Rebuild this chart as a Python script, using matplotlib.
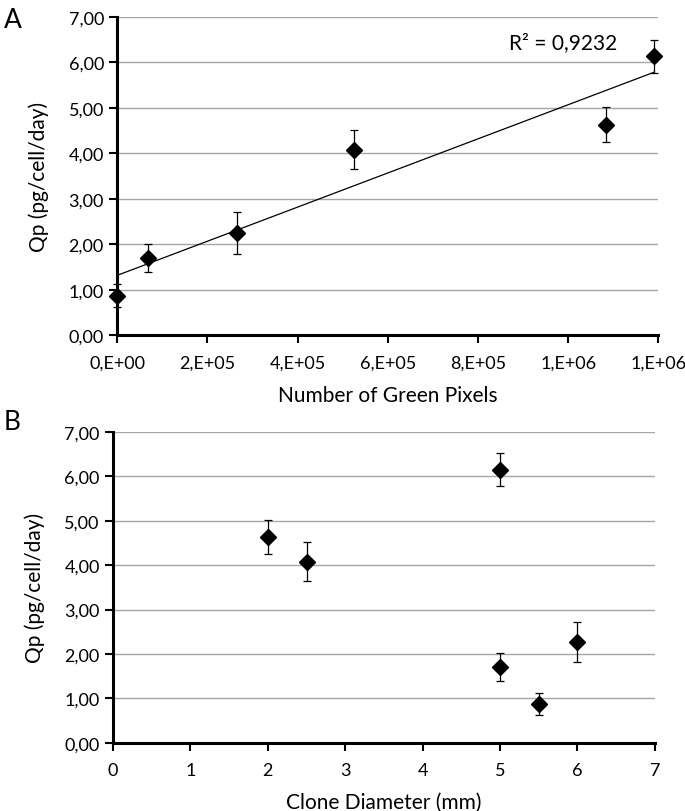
import numpy as np
import matplotlib
matplotlib.use('Agg')
import matplotlib.pyplot as plt

plt.rcParams['font.family'] = ['Lato', 'DejaVu Sans']

# Panel A data
green_pixels = [0, 69000, 266000, 526000, 1085000, 1191000]
qp_a = [0.87, 1.70, 2.25, 4.08, 4.63, 6.13]
err_a = [0.25, 0.30, 0.46, 0.43, 0.38, 0.37]
x_ticks_a = [0, 200000, 400000, 600000, 800000, 1000000, 1200000]
x_labels_a = ['0,E+00', '2,E+05', '4,E+05', '6,E+05', '8,E+05', '1,E+06', '1,E+06']
r2_text = 'R² = 0,9232'

# Panel B data
clone_diam = [2, 2.5, 5, 5, 5.5, 6]
qp_b = [4.63, 4.08, 6.15, 1.70, 0.88, 2.27]
err_b = [0.38, 0.43, 0.37, 0.31, 0.25, 0.46]

y_ticks = [0, 1, 2, 3, 4, 5, 6, 7]
y_labels = ['0,00', '1,00', '2,00', '3,00', '4,00', '5,00', '6,00', '7,00']


def style_axes(ax):
    for s in ['top', 'right']:
        ax.spines[s].set_visible(False)
    for s in ['left', 'bottom']:
        ax.spines[s].set_linewidth(2.2)
    ax.yaxis.grid(True, color='#a6a6a6', linewidth=1)
    ax.set_axisbelow(True)
    ax.set_ylim(0, 7)
    ax.set_yticks(y_ticks)
    ax.set_yticklabels(y_labels)
    ax.tick_params(axis='both', direction='out', length=6, width=1.5, labelsize=13)
    ax.tick_params(axis='x', pad=8)
    ax.set_ylabel('Qp (pg/cell/day)', fontsize=15, labelpad=14)


def draw_points(ax, x, y, err):
    eb = ax.errorbar(x, y, yerr=err, fmt='D', color='black', markersize=8.5,
                     ecolor='black', elinewidth=0.9, capsize=3, capthick=0.9, zorder=3)
    for artist in eb.lines[0:1] + tuple(eb.lines[1]) + tuple(eb.lines[2]):
        artist.set_clip_on(False)


fig = plt.figure(figsize=(6.85, 8.12), dpi=100)

# ===== A =====
ax1 = fig.add_axes([0.171, 0.586, 0.79, 0.392])
draw_points(ax1, green_pixels, qp_a, err_a)
slope, intercept = np.polyfit(green_pixels, qp_a, 1)
xs = np.array([min(green_pixels), max(green_pixels)])
ax1.plot(xs, slope * xs + intercept, color='black', linewidth=0.9, zorder=2)
ax1.set_xlim(0, 1200000)
ax1.set_xticks(x_ticks_a)
ax1.set_xticklabels(x_labels_a)
style_axes(ax1)
ax1.set_xlabel('Number of Green Pixels', fontsize=15, labelpad=10)
ax1.text(990000, 6.45, r2_text, fontsize=15, ha='center', va='center')
fig.text(0.005, 0.975, 'A', fontsize=19, va='center')

# ===== B =====
ax2 = fig.add_axes([0.165, 0.084, 0.791, 0.383])
draw_points(ax2, clone_diam, qp_b, err_b)
ax2.set_xlim(0, 7)
ax2.set_xticks(range(0, 8))
style_axes(ax2)
ax2.set_xlabel('Clone Diameter (mm)', fontsize=15, labelpad=10)
fig.text(0.005, 0.48, 'B', fontsize=19, va='center')

fig.savefig('out.png', dpi=100)
